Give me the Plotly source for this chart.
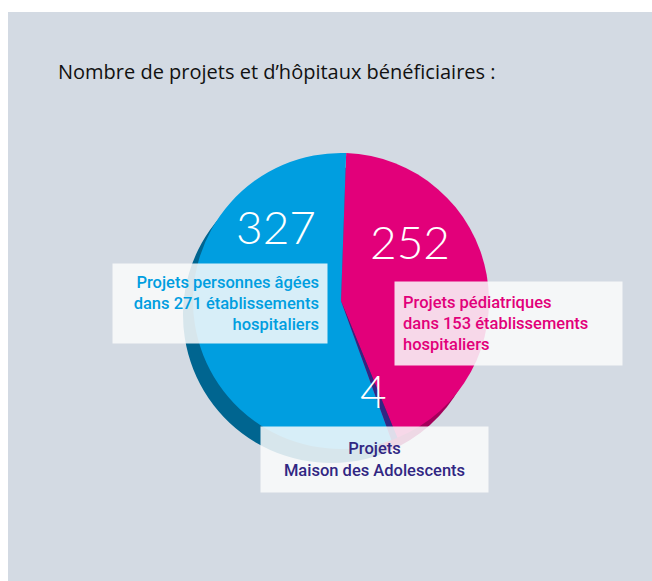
import plotly.graph_objects as go

# ---- data ----
categories = ["Projets pédiatriques", "Projets Maison des Adolescents", "Projets personnes âgées"]
projects = [252, 4, 327]
hospitals = [153, None, 271]
slice_colors = ["#e2007a", "#312783", "#009ee0"]
shadow_colors = ["#a3005a", "#231c63", "#006590"]
title_text = "Nombre de projets et d\u2019hôpitaux bénéficiaires :"

W, H = 652, 581

def px_x(x):
    return x / W

def px_y(y):
    return 1 - y / H

# pie geometry (pixels)
cx, cy, r = 341, 301, 148
sdx, sdy = -10, 14

fig = go.Figure()

# shadow (3D depth)
fig.add_trace(go.Pie(
    values=projects, labels=categories, sort=False, direction="clockwise", rotation=2,
    marker=dict(colors=shadow_colors, line=dict(width=0)), textinfo="none", hoverinfo="skip",
    domain=dict(x=[px_x(cx + sdx - r), px_x(cx + sdx + r)], y=[px_y(cy + sdy + r), px_y(cy + sdy - r)]),
    showlegend=False,
))
# main pie
fig.add_trace(go.Pie(
    values=projects, labels=categories, sort=False, direction="clockwise", rotation=2,
    marker=dict(colors=slice_colors, line=dict(width=0)), textinfo="none",
    domain=dict(x=[px_x(cx - r), px_x(cx + r)], y=[px_y(cy + r), px_y(cy - r)]),
    showlegend=False,
))

# background panel
fig.add_shape(type="rect", xref="paper", yref="paper", x0=px_x(8), x1=1, y0=0, y1=px_y(12),
              fillcolor="#d3dae3", line=dict(width=0), layer="below")

annotations = []
# title
annotations.append(dict(x=px_x(56), y=px_y(71), xref="paper", yref="paper", xanchor="left", yanchor="middle",
                        text=title_text, showarrow=False,
                        font=dict(family="Open Sans", size=20, color="#111111")))

# big numbers
num_pos = [(410, 241), (373, 390), (276, 227)]
for v, (x, y) in zip(projects, num_pos):
    annotations.append(dict(x=px_x(x), y=px_y(y), xref="paper", yref="paper", xanchor="center", yanchor="middle",
                            text=str(v), showarrow=False,
                            font=dict(family="Lato", size=46, color="white", weight=300)))

box_bg = "rgba(250,251,252,0.86)"
# label boxes
label_texts = [
    f"Projets pédiatriques<br>dans {hospitals[0]} établissements<br>hospitaliers",
    "Projets<br>Maison des Adolescents",
    f"Projets personnes âgées<br>dans {hospitals[2]} établissements<br>hospitaliers",
]
label_cfg = [
    dict(x=394, y=281, align="left", w=229, h=83),
    dict(x=260, y=426, align="center", w=229, h=65),
    dict(x=112, y=263, align="right", w=216, h=79),
]
for t, c, col in zip(label_texts, label_cfg, slice_colors):
    annotations.append(dict(x=px_x(c["x"]), y=px_y(c["y"]), xref="paper", yref="paper",
                            xanchor="left", yanchor="top", text=t, showarrow=False,
                            align=c["align"], width=c["w"] - 18, height=c["h"] - 16,
                            valign="middle", borderpad=8, bgcolor=box_bg,
                            font=dict(family="Roboto", size=16.5, color=col, weight=500)))

fig.update_layout(
    width=W, height=H, margin=dict(l=0, r=0, t=0, b=0),
    paper_bgcolor="white", plot_bgcolor="white",
    annotations=annotations,
)

fig.write_html("out.html", config={"displayModeBar": False},
               post_script="document.body.style.margin='0';document.body.style.overflow='hidden';")
